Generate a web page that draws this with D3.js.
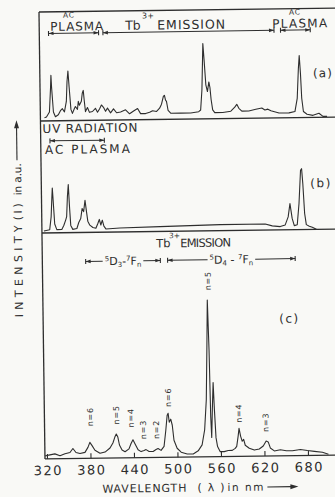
<!DOCTYPE html>
<html>
<head>
<meta charset="utf-8">
<script src="https://cdn.jsdelivr.net/npm/d3@7"></script>
<style>
  html, body { margin: 0; padding: 0; background: #f9f9f6; }
  svg { display: block; }
  text { font-family: "DejaVu Sans", sans-serif; fill: #2e2e2e; }
</style>
</head>
<body>
<svg id="fig" width="335" height="497"></svg>
<script>
// wavelength ticks (nm)
const wlTicks = [320, 380, 440, 500, 560, 620, 680];

// (a) AC plasma + Tb3+ emission: [wavelength nm, intensity a.u.]
const specA = [[322.9,4],[325.6,5],[329.8,11],[331.8,42],[332.5,57],[333.2,42],[335.3,11],[338,5],[342,7.5],[345,12.5],
  [347.7,15],[350.5,11],[353.3,24],[354.6,49],[356,62],[357.4,42],[359.5,14],[361.5,9],[364.3,15],[365.7,17.5],
  [368.5,14],[369.8,24],[371.2,19],[374,24],[375.4,34],[376.8,37.5],[378.1,24],[379.5,11],[382.3,16],[385,10],
  [389.2,11],[393.3,15],[396.1,10],[398.9,14],[401.6,19],[404.4,16],[407.2,11],[409.9,15],[414.1,9],[418.2,14],
  [422.4,9],[427.9,10],[434.8,12.5],[440.3,7.5],[445.9,11],[451.4,14],[455.5,7.5],[462.4,7.5],[468,9],[472.1,11],
  [477.6,10],[481.8,14],[484.5,19],[487.3,29],[488.7,30],[490.1,24],[491.4,22.5],[493.5,11],[497,7.5],[510.8,7.5],
  [524.6,7.5],[535.7,9],[538.4,11],[540.5,36],[541.9,74],[542.6,94],[544,74],[546,42.5],[548.1,34],[550.2,46],
  [551.6,39],[553,24],[555,11],[557.8,7.5],[568.9,7.5],[580,9],[585.5,14],[588.3,17.5],[591.1,12.5],[595.2,9],
  [604.8,9],[614.5,11],[622.8,12.5],[627,10],[631.1,11],[635.3,9],[646.4,6],[660.1,6],[668.4,7.5],[671.8,24],
  [673.9,61],[675.3,77.5],[676.7,55],[678,24],[680.1,7.5],[685,4],[693.2,2.5],[701.5,5],[707,1],[712.6,1]];

// (b) UV radiation + AC plasma
const specB = [[320,2.5],[328,4],[330.2,20],[331.6,45],[332.3,56],[333,45],[335,11],[337.8,4],[344.7,4],[347.5,9],
  [350.3,16],[351.6,20],[353,45],[354.4,60],[355.7,32.5],[357.1,9],[359.9,4],[365.5,5],[368.2,12.5],[371,17.5],
  [373.1,30],[375.1,26],[377.2,40],[379.3,24],[380.7,14],[383.4,9],[387.6,6],[391.7,5],[394.5,11],[396.6,16],
  [398.6,9],[400.7,15],[402.8,7.5],[405.5,4],[424.9,5],[480.2,6],[563.1,7.5],[625.3,7.5],[635,5],[646,4],
  [652.9,6],[657.1,16],[659.8,32.5],[662.6,14],[665.4,5],[669.5,6],[672.3,32.5],[675,74],[676.5,76],[677.9,57.5],
  [679.9,20],[682,6],[686.1,4],[690.2,2.5],[695.8,0]];

// (c) Tb3+ emission
const specC = [[317.2,1.9],[324.1,2.5],[331,3.1],[338,1.9],[344.9,3.1],[351.8,3.8],[355.9,6.3],[360.1,3.8],[365.6,3.1],
  [372.5,3.8],[376.7,6.9],[379.4,10],[382.2,8.1],[386.3,5],[393.2,3.1],[400.2,3.8],[407.1,6.3],[411.2,9.4],[414,13.1],
  [416,15],[418.1,13.1],[420.2,8.1],[423.7,5],[427.8,3.8],[433.3,5.6],[436.1,8.8],[438.9,11.3],[441.6,8.8],[445.8,5],
  [449.9,3.8],[454.1,4.4],[456.8,5],[461,3.8],[466.5,3.8],[470.6,5],[473.4,5.6],[477.5,4.4],[481.7,6.9],[484.4,16.9],
  [486.5,26.3],[487.9,27.5],[489.3,21.9],[491.4,23.8],[493.4,20],[495.5,10.6],[499.7,5.6],[505.2,3.1],[513.5,1.9],
  [521.8,1.9],[528.7,3.8],[534.2,7.5],[538,16.9],[540.8,35.6],[542.5,66.9],[544,98],[545.5,66.9],[546.6,25],
  [547.6,12],[549,30],[550.5,46.3],[551.8,29.4],[553.5,11.9],[555.5,6.3],[559.1,3.1],[564.6,3.1],[570.1,3.8],
  [575.7,3.8],[579.8,5],[581.9,6.3],[584,12.5],[585.4,17.5],[587.5,12.5],[589.6,9.4],[591.6,10.6],[593.7,6.9],
  [599.2,5],[606.1,3.8],[613,4.4],[618.5,6.3],[622.6,9.4],[625.4,8.8],[628.2,5],[633.7,3.1],[642,3.8],[650.3,3.1],
  [658.6,3.1],[669.7,3.8],[679.3,3.1],[689,2.5],[700,1.9],[708.3,0.6]];

// 5D3 -> 7Fn and 5D4 -> 7Fn transitions marked on (c)
const peakLabels = [
  { n: 6, wl: 380, level: 26 }, { n: 5, wl: 416, level: 27 }, { n: 4, wl: 436, level: 25 },
  { n: 3, wl: 453, level: 17.5 }, { n: 2, wl: 471, level: 17.5 }, { n: 6, wl: 488, level: 37.5 },
  { n: 5, wl: 545, level: 110 }, { n: 4, wl: 585, level: 27 }, { n: 3, wl: 622, level: 21 }];

const panelTags = ["(a)", "(b)", "(c)"];

// wavelength ranges of the header brackets
const bandsA = [[330, 399], [405, 641], [650, 691]];
const bandsB = [[330, 405]];
const bandsC = [[377, 480], [490, 666]];

const ink = "#2e2e2e";
const svg = d3.select("#fig");
// the scanned figure sits slightly rotated
const g = svg.append("g").attr("transform", "rotate(-0.77 190 235)");

const x = d3.scaleLinear().domain([320, 680]).range([44, 305]);
const ya = d3.scaleLinear().domain([0, 100]).range([119, 39]);
const yb = d3.scaleLinear().domain([0, 100]).range([231, 151]);
const yc = d3.scaleLinear().domain([0, 100]).range([457, 297]);

// frame and panel separators
const frame = [[42, 10, 340, 10], [42, 10, 42, 457], [42, 119, 340, 119], [42, 231, 340, 231], [42, 457, 336, 457]];
g.selectAll("line.frame").data(frame).join("line")
  .attr("class", "frame")
  .attr("x1", d => d[0]).attr("y1", d => d[1])
  .attr("x2", d => d[2]).attr("y2", d => d[3])
  .attr("stroke", ink).attr("stroke-width", 1.3);

// spectra
const lineFor = y => d3.line().x(d => x(d[0])).y(d => y(d[1]));
[[specA, ya], [specB, yb], [specC, yc]].forEach(([s, y]) => {
  g.append("path").datum(s)
    .attr("d", lineFor(y))
    .attr("fill", "none")
    .attr("stroke", ink)
    .attr("stroke-width", 1.1)
    .attr("stroke-linejoin", "round");
});

// x axis
const ax = g.append("g").attr("transform", "translate(0,457)")
  .call(d3.axisBottom(x).tickValues(wlTicks).tickSize(-5).tickPadding(7).tickFormat(d3.format("d")));
ax.select(".domain").remove();
ax.selectAll("line").attr("stroke", ink).attr("stroke-width", 1.1);
ax.selectAll("text")
  .attr("font-family", "DejaVu Sans, sans-serif")
  .attr("font-size", 13)
  .attr("letter-spacing", 1.5)
  .attr("dx", 0.75)
  .attr("fill", ink);

// text helper
function label(parent, str, px, py, size, len, anchor) {
  const t = parent.append("text").attr("x", px).attr("y", py)
    .attr("font-size", size).text(str);
  if (len) t.attr("textLength", len).attr("lengthAdjust", "spacing");
  if (anchor) t.attr("text-anchor", anchor);
  return t;
}

// bracket |<---->| with optional gap for a label
function bracket(x0, x1, y, gap) {
  const segs = gap ? [[x0, gap[0]], [gap[1], x1]] : [[x0, x1]];
  segs.forEach(s => g.append("line").attr("x1", s[0]).attr("x2", s[1]).attr("y1", y).attr("y2", y)
    .attr("stroke", ink).attr("stroke-width", 1));
  [[x0, 1], [x1, -1]].forEach(([bx, dir]) => {
    g.append("line").attr("x1", bx).attr("x2", bx).attr("y1", y - 2.5).attr("y2", y + 2.5)
      .attr("stroke", ink).attr("stroke-width", 1.1);
    g.append("path")
      .attr("d", `M${bx},${y}L${bx + dir * 5},${y - 1.8}L${bx + dir * 5},${y + 1.8}Z`)
      .attr("fill", ink);
  });
}

// panel (a) header
label(g, "AC", 66, 16, 7.5, 11);
label(g, "PLASMA", 53, 29, 12, 53);
label(g, "Tb", 128, 29, 12.5);
label(g, "3+", 145, 18, 8);
label(g, "EMISSION", 160, 29, 12.5, 68);
label(g, "AC", 292, 16, 7.5, 11);
label(g, "PLASMA", 275, 29, 12, 55);
bandsA.forEach(b => bracket(x(b[0]), x(b[1]), 31.5));

// panel (b) header
label(g, "UV RADIATION", 44, 131, 12, 95);
bandsB.forEach(b => bracket(x(b[0]), x(b[1]), 139));
label(g, "AC PLASMA", 46, 152, 12, 85);

// panel (c) header
label(g, "Tb", 156, 247, 11.5);
label(g, "3+", 169, 238, 7.5);
label(g, "EMISSION", 180, 247, 11.5, 51);

const transitions = [["5", "D", "3", "7"], ["5", "D", "4", "7"]];
bandsC.forEach((b, i) => {
  const cx = (x(b[0]) + x(b[1])) / 2;
  const tr = transitions[i];
  const t = g.append("text").attr("x", cx).attr("y", 264).attr("text-anchor", "middle").attr("font-size", 11);
  t.append("tspan").attr("font-size", 7).attr("dy", -4).text(tr[0]);
  t.append("tspan").attr("dy", 4).text(tr[1]);
  t.append("tspan").attr("font-size", 7).attr("dy", 2).text(tr[2]);
  t.append("tspan").attr("dy", -2).text(i === 0 ? "-" : " - ");
  t.append("tspan").attr("font-size", 7).attr("dy", -4).text(tr[3]);
  t.append("tspan").attr("dy", 4).text("F");
  t.append("tspan").attr("font-size", 7).attr("dy", 2).text("n");
  const w = t.node().getComputedTextLength();
  bracket(x(b[0]), x(b[1]), 260, [cx - w / 2 - 2, cx + w / 2 + 2]);
});

// panel tags
const tagPos = [[315, 79, 19], [311, 189, 20], [278, 324, 19]];
panelTags.forEach((s, i) => label(g, s, tagPos[i][0], tagPos[i][1], 12, tagPos[i][2]));

// transition labels on (c)
g.selectAll("text.nlab").data(peakLabels).join("text")
  .attr("class", "nlab")
  .attr("transform", d => `translate(${x(d.wl) + 3},${yc(d.level)}) rotate(-90)`)
  .attr("text-anchor", "middle")
  .attr("font-size", 8)
  .attr("letter-spacing", 0.8)
  .text(d => `n=${d.n}`);

// y axis title
const yt = g.append("g").attr("transform", "translate(22,315) rotate(-90)");
label(yt, "INTENSITY", 0, 0, 11, 92);
label(yt, "(I)", 97, 0, 11, 17);
label(yt, "in a.u.", 122, 0, 10.5, 32);
yt.append("line").attr("x1", 157).attr("x2", 192).attr("y1", -4).attr("y2", -4).attr("stroke", ink).attr("stroke-width", 1.1);
yt.append("path").attr("d", "M197,-4L189,-6.5L189,-1.5Z").attr("fill", ink);

// x axis title
label(g, "WAVELENGTH", 99, 491.5, 11, 84);
label(g, "( \u03bb )", 194, 491.5, 11, 27);
label(g, "in nm", 224, 491.5, 10.5, 36);
g.append("line").attr("x1", 264).attr("x2", 288).attr("y1", 488).attr("y2", 488).attr("stroke", ink).attr("stroke-width", 1.1);
g.append("path").attr("d", "M295,488L287,485.5L287,490.5Z").attr("fill", ink);
</script>
</body>
</html>
